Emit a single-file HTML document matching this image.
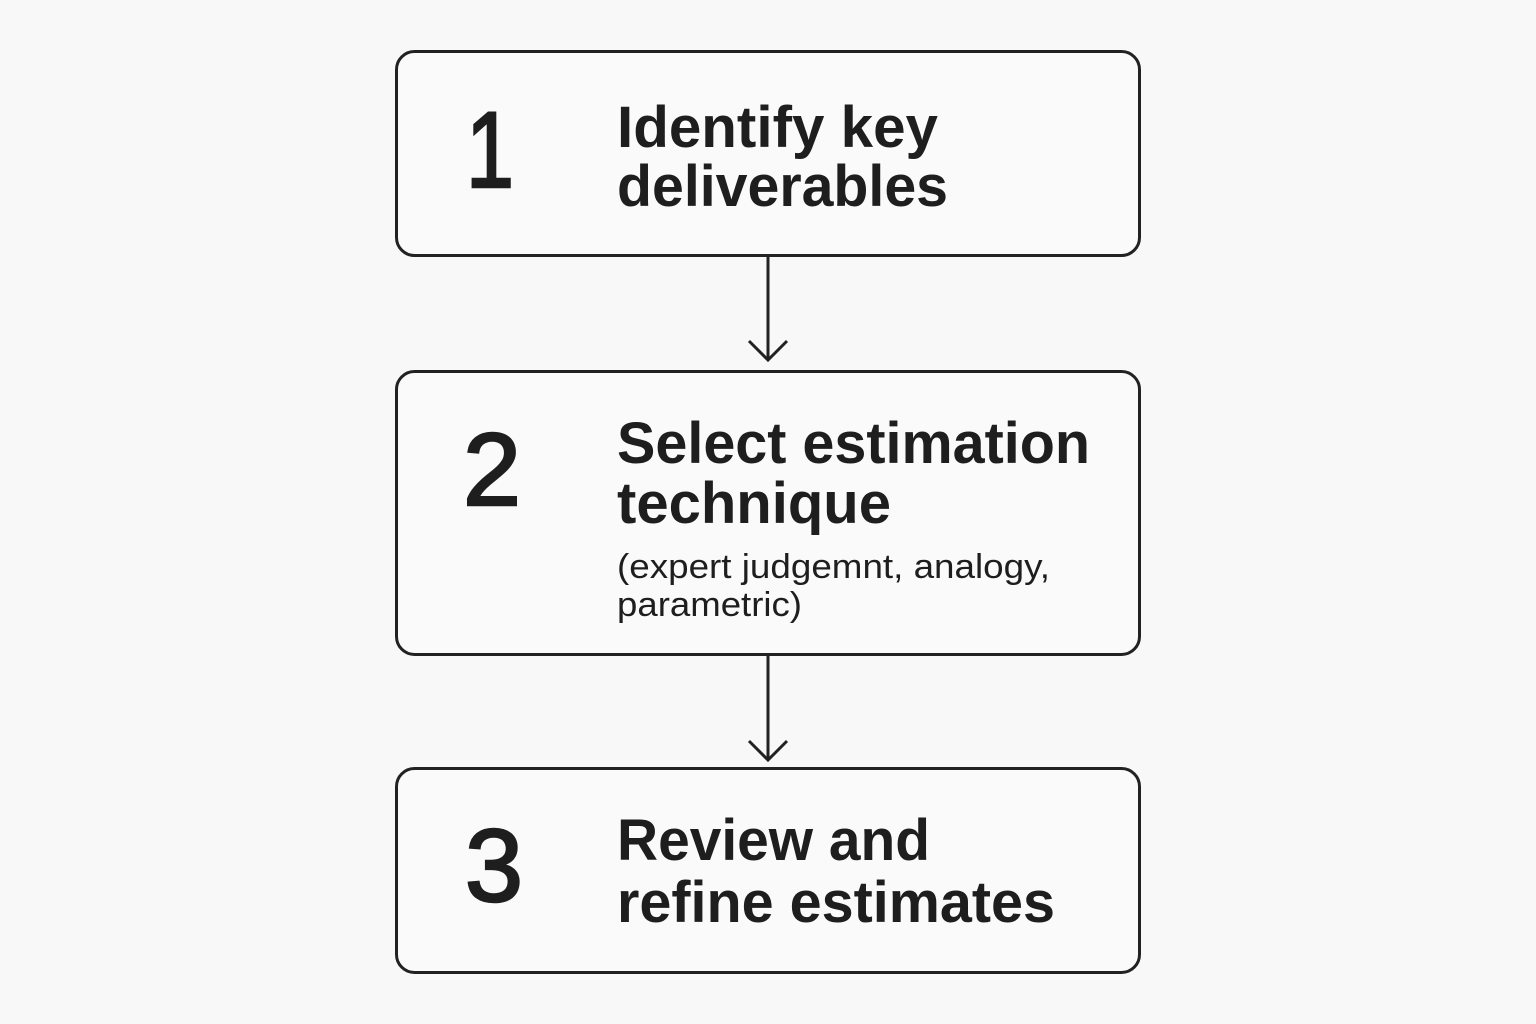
<!DOCTYPE html>
<html><head><meta charset="utf-8"><style>
html,body{margin:0;padding:0;background:#f8f8f8;}
svg{display:block;}
text{font-family:"Liberation Sans",sans-serif;fill:#1e1e1e;}
</style></head><body>
<svg width="1536" height="1024" viewBox="0 0 1536 1024" xmlns="http://www.w3.org/2000/svg">
<rect width="1536" height="1024" fill="#f8f8f8"/>
<g fill="#fafafa" stroke="#222" stroke-width="3">
<rect x="396.5" y="51.5" width="743" height="204" rx="18"/>
<rect x="396.5" y="371.5" width="743" height="283" rx="18"/>
<rect x="396.5" y="768.5" width="743" height="204" rx="18"/>
</g>
<g stroke="#222" stroke-width="3" fill="none">
<line x1="768" y1="256" x2="768" y2="359"/>
<polyline points="749,341 768,360 787,341"/>
<line x1="768" y1="655" x2="768" y2="759"/>
<polyline points="749,741 768,760 787,741"/>
</g>
<g stroke="#1e1e1e" stroke-width="2.5">
<text x="466" y="187" font-size="108" textLength="48" lengthAdjust="spacingAndGlyphs">1</text>
<text x="463" y="505" font-size="103" textLength="58" lengthAdjust="spacingAndGlyphs">2</text>
<text x="465" y="901" font-size="103" textLength="58" lengthAdjust="spacingAndGlyphs">3</text>
</g>
<g font-weight="bold">
<text x="617" y="147" font-size="58" textLength="321" lengthAdjust="spacingAndGlyphs">Identify key</text>
<text x="617" y="206" font-size="58" textLength="331" lengthAdjust="spacingAndGlyphs">deliverables</text>
<text x="617" y="463" font-size="58" textLength="473" lengthAdjust="spacingAndGlyphs">Select estimation</text>
<text x="617" y="523" font-size="58" textLength="274" lengthAdjust="spacingAndGlyphs">technique</text>
<text x="617" y="860" font-size="58" textLength="313" lengthAdjust="spacingAndGlyphs">Review and</text>
<text x="617" y="922" font-size="58" textLength="438" lengthAdjust="spacingAndGlyphs">refine estimates</text>
</g>
<text x="617" y="578" font-size="34" textLength="433" lengthAdjust="spacingAndGlyphs">(expert judgemnt, analogy,</text>
<text x="617" y="616" font-size="34" textLength="185" lengthAdjust="spacingAndGlyphs">parametric)</text>
</svg>
</body></html>
